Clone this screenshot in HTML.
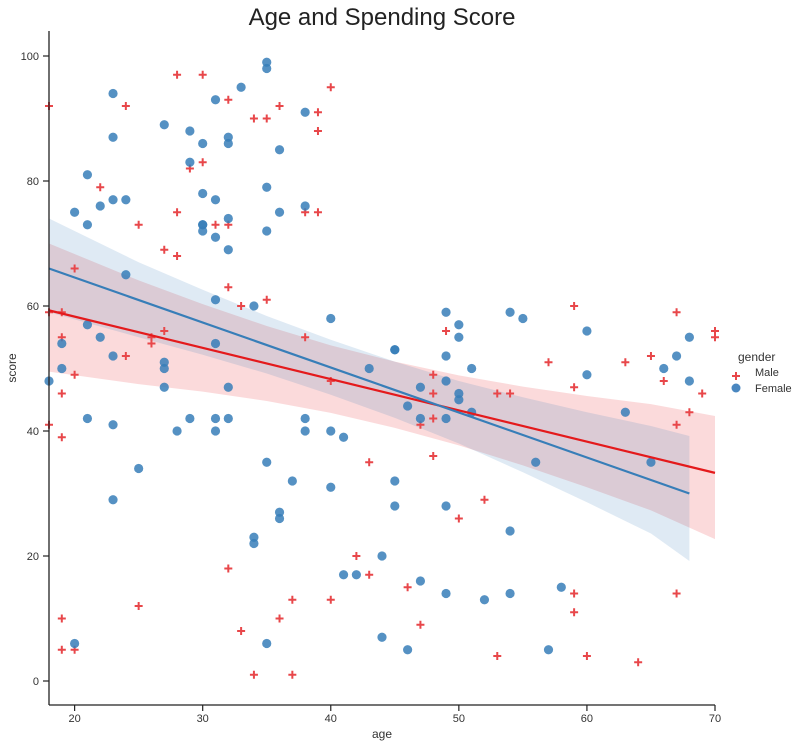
<!DOCTYPE html>
<html><head><meta charset="utf-8"><style>
html,body{margin:0;padding:0;background:#fff;}
svg{display:block;font-family:"Liberation Sans",sans-serif;}
</style></head><body>
<svg id="chart" width="801" height="746">
<text x="382" y="25" text-anchor="middle" font-size="24" fill="#222">Age and Spending Score</text>
<g id="bands"></g>
<g id="marks"></g>
<g id="lines"></g>
<g id="axes"></g>
<text x="382" y="738" text-anchor="middle" font-size="12" fill="#333">age</text>
<text x="16" y="368" text-anchor="middle" font-size="12" fill="#333" transform="rotate(-90 16 368)">score</text>
<g>
<text x="738" y="361" font-size="12" fill="#333">gender</text>
<g><path d="M732 376h8M736 372v8" stroke="#e8474a" stroke-width="2"/><text x="755" y="376" font-size="11" fill="#333">Male</text></g>
<g><circle cx="736" cy="388" r="4.5" fill="#4a87c0"/><text x="755" y="392" font-size="11" fill="#333">Female</text></g>
</g>
</svg>
<script>
const maleAge=[18,24,28,30,32,34,35,36,39,39,40,22,29,30,25,28,31,32,38,39,27,28,20,32,33,35,19,18,19,26,26,27,24,38,20,19,18,19,40,25,19,19,20,32,33,34,36,37,37,40,42,43,43,59,67,70,70,49,57,63,65,66,69,59,48,48,53,54,48,47,68,67,48,52,50,46,59,59,67,47,53,60,64];
const maleScore=[92,92,97,97,93,90,90,92,91,88,95,79,82,83,73,75,73,73,75,75,69,68,66,63,60,61,59,59,55,55,54,56,52,55,49,46,41,39,48,12,10,5,5,18,8,1,10,13,1,13,20,17,35,60,59,56,55,56,51,51,52,48,46,47,49,46,46,46,42,41,43,41,36,29,26,15,14,11,14,9,4,4,3];
const femaleAge=[23,23,21,20,21,22,23,24,24,27,29,29,30,30,30,30,30,31,31,31,31,31,32,32,32,32,33,34,35,35,35,35,36,36,38,38,40,19,19,21,22,23,27,27,43,45,18,27,32,21,23,25,23,28,29,31,31,32,35,37,38,38,40,41,40,36,36,34,34,20,35,41,42,44,44,45,45,49,54,55,50,50,60,45,49,51,60,67,68,66,68,47,49,50,50,51,46,47,49,63,56,65,49,54,47,49,52,54,58,46,57];
const femaleScore=[94,87,81,75,73,76,77,77,65,89,88,83,86,78,73,73,72,93,77,71,61,54,87,86,74,69,95,60,99,98,79,72,85,75,91,76,58,54,50,57,55,52,51,50,50,53,48,47,47,42,41,34,29,40,42,42,40,42,35,32,42,40,40,39,31,27,26,23,22,6,6,17,17,20,7,32,28,59,59,58,57,55,56,53,52,50,49,52,55,50,48,47,48,46,45,43,44,42,42,43,35,35,28,24,16,14,13,14,15,5,5];
const maleFitX=[18,70], maleFitY=[59.3,33.3];
const femaleFitX=[18,68], femaleFitY=[66,30];
const maleBandX=[18,25,30,35,40,45,50,55,60,65,70];
const maleBandUpper=[70,64.1,60.3,56.8,53.7,51.1,48.9,47.1,45.6,44.3,42.4];
const maleBandLower=[49.5,47.5,46.3,44.8,42.9,40.5,37.7,34.5,31,27.3,22.7];
const femaleBandX=[18,25,30,35,40,45,50,55,60,65,68];
const femaleBandUpper=[74,67,62.6,58.4,54.6,51.1,48,45.4,43,40.8,39.2];
const femaleBandLower=[59,55,52.2,49.2,45.8,42.1,38,33.4,28.6,23.6,19.2];
const xTicks=[20,30,40,50,60,70];
const yTicks=[0,20,40,60,80,100];

const X0=49,X1=715,Y0=705,Y1=31;
const xmin=18,xmax=70,ymin=-3.84,ymax=104;
const sx=v=>X0+(v-xmin)/(xmax-xmin)*(X1-X0);
const sy=v=>Y0-(v-ymin)/(ymax-ymin)*(Y0-Y1);
const NS='http://www.w3.org/2000/svg';
function mk(tag,attrs,parent){const e=document.createElementNS(NS,tag);for(const k in attrs)e.setAttribute(k,attrs[k]);parent.appendChild(e);return e;}
const bands=document.getElementById('bands'),marks=document.getElementById('marks'),lines=document.getElementById('lines'),axes=document.getElementById('axes');

function band(xs,up,lo,fill,name){
  let d='M'+xs.map((x,i)=>sx(x)+' '+sy(up[i])).join('L');
  for(let i=xs.length-1;i>=0;i--)d+='L'+sx(xs[i])+' '+sy(lo[i]);
  const p=mk('path',{d:d+'Z',fill:fill},bands);
  
  
}
band(maleBandX,maleBandUpper,maleBandLower,'rgba(228,26,28,0.16)');

band(femaleBandX,femaleBandUpper,femaleBandLower,'rgba(55,126,184,0.16)');


maleAge.forEach((a,i)=>{
  const x=sx(a),y=sy(maleScore[i]);
  const p=mk('path',{d:`M${x-4} ${y}h8M${x} ${y-4}v8`,stroke:'#e8474a','stroke-width':2},marks);
  
  
});
femaleAge.forEach((a,i)=>{
  const c=mk('circle',{cx:sx(a),cy:sy(femaleScore[i]),r:4.6,fill:'#377eb8','fill-opacity':0.85},marks);
  
  
});
const ml=mk('line',{x1:sx(maleFitX[0]),y1:sy(maleFitY[0]),x2:sx(maleFitX[1]),y2:sy(maleFitY[1]),stroke:'#e41a1c','stroke-width':2.2},lines);


const fl=mk('line',{x1:sx(femaleFitX[0]),y1:sy(femaleFitY[0]),x2:sx(femaleFitX[1]),y2:sy(femaleFitY[1]),stroke:'#377eb8','stroke-width':2.2},lines);



const ls=mk('line',{x1:X0,y1:Y1,x2:X0,y2:Y0,stroke:'#222','stroke-width':1.3},axes);


const bs=mk('line',{x1:X0,y1:Y0,x2:X1,y2:Y0,stroke:'#222','stroke-width':1.3},axes);


xTicks.forEach(t=>{
  const tk=mk('line',{x1:sx(t),y1:Y0,x2:sx(t),y2:Y0+6,stroke:'#222','stroke-width':1.2},axes);
  
  
  const tx=mk('text',{x:sx(t),y:Y0+17,'text-anchor':'middle','font-size':11,fill:'#333'},axes);
  tx.textContent=t;
  
  
});
yTicks.forEach(t=>{
  const tk=mk('line',{x1:X0-6,y1:sy(t),x2:X0,y2:sy(t),stroke:'#222','stroke-width':1.2},axes);
  
  
  const tx=mk('text',{x:X0-10,y:sy(t)+4,'text-anchor':'end','font-size':11,fill:'#333'},axes);
  tx.textContent=t;
  
  
});
</script>
</body></html>
